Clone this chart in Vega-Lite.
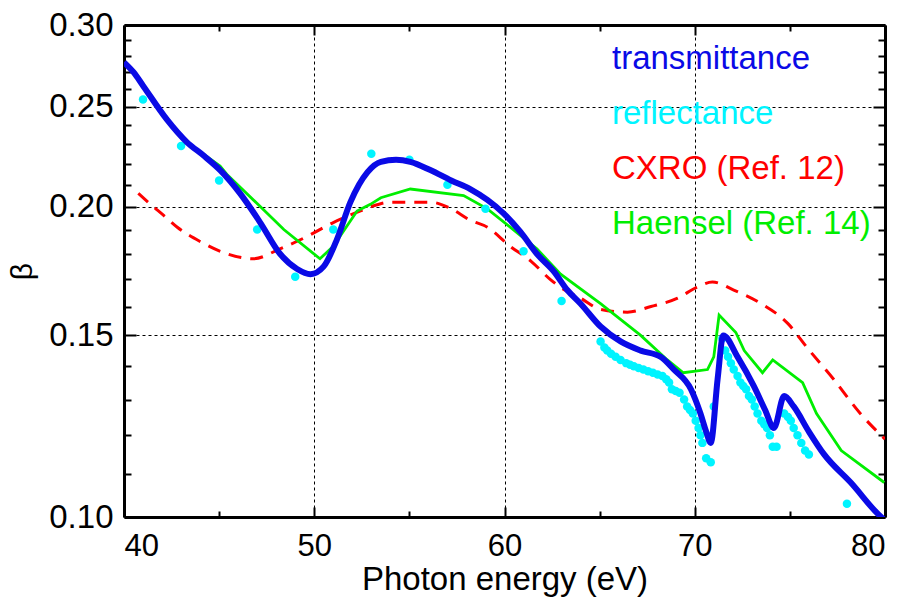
{
  "$schema": "https://vega.github.io/schema/vega-lite/v6.json",
  "width": 761,
  "height": 492,
  "autosize": {"type": "none"},
  "padding": {"left": 124, "top": 25, "right": 22, "bottom": 86},
  "config": {"font": "Liberation Sans", "view": {"stroke": null}},
  "datasets": {
    "trans": [
      {"energy": 40.0, "beta": 0.276}, {"energy": 40.5, "beta": 0.270}, {"energy": 41.0, "beta": 0.262},
      {"energy": 42.25, "beta": 0.243}, {"energy": 43.3, "beta": 0.231}, {"energy": 44.2, "beta": 0.224},
      {"energy": 45.05, "beta": 0.217}, {"energy": 46.1, "beta": 0.206}, {"energy": 47.16, "beta": 0.193},
      {"energy": 48.2, "beta": 0.180}, {"energy": 49.1, "beta": 0.174}, {"energy": 49.8, "beta": 0.172},
      {"energy": 50.5, "beta": 0.175}, {"energy": 51.2, "beta": 0.186}, {"energy": 51.9, "beta": 0.202},
      {"energy": 52.8, "beta": 0.216}, {"energy": 53.5, "beta": 0.221}, {"energy": 54.3, "beta": 0.222},
      {"energy": 55.05, "beta": 0.221}, {"energy": 56.1, "beta": 0.217}, {"energy": 57.2, "beta": 0.212},
      {"energy": 58.2, "beta": 0.208}, {"energy": 59.1, "beta": 0.203}, {"energy": 59.95, "beta": 0.197},
      {"energy": 60.84, "beta": 0.189}, {"energy": 61.7, "beta": 0.180}, {"energy": 62.6, "beta": 0.173},
      {"energy": 63.3, "beta": 0.166}, {"energy": 64.0, "beta": 0.161}, {"energy": 65.05, "beta": 0.153},
      {"energy": 66.1, "beta": 0.148}, {"energy": 67.16, "beta": 0.145}, {"energy": 68.2, "beta": 0.143},
      {"energy": 68.9, "beta": 0.139}, {"energy": 69.8, "beta": 0.133}, {"energy": 70.3, "beta": 0.126},
      {"energy": 70.6, "beta": 0.121}, {"energy": 70.84, "beta": 0.118}, {"energy": 71.2, "beta": 0.136},
      {"energy": 71.5, "beta": 0.150}, {"energy": 72.25, "beta": 0.143}, {"energy": 73.1, "beta": 0.134},
      {"energy": 73.7, "beta": 0.127}, {"energy": 74.16, "beta": 0.122}, {"energy": 74.7, "beta": 0.131},
      {"energy": 75.2, "beta": 0.128}, {"energy": 76.0, "beta": 0.121}, {"energy": 76.8, "beta": 0.115},
      {"energy": 78.2, "beta": 0.108}, {"energy": 79.8, "beta": 0.100}, {"energy": 80.0, "beta": 0.0993}
    ],
    "refl": [
      {"energy": 41, "beta": 0.254}, {"energy": 43, "beta": 0.229}, {"energy": 45, "beta": 0.212},
      {"energy": 47, "beta": 0.190}, {"energy": 49, "beta": 0.171}, {"energy": 51, "beta": 0.190},
      {"energy": 53, "beta": 0.225}, {"energy": 55, "beta": 0.222}, {"energy": 57, "beta": 0.210},
      {"energy": 59, "beta": 0.199}, {"energy": 61, "beta": 0.181}, {"energy": 63, "beta": 0.162},
      {"energy": 65.05, "beta": 0.148}, {"energy": 65.25, "beta": 0.146}, {"energy": 65.4, "beta": 0.145},
      {"energy": 65.6, "beta": 0.144}, {"energy": 65.84, "beta": 0.143}, {"energy": 66.1, "beta": 0.142},
      {"energy": 66.4, "beta": 0.141}, {"energy": 66.6, "beta": 0.1405}, {"energy": 66.8, "beta": 0.140},
      {"energy": 67.05, "beta": 0.1395}, {"energy": 67.3, "beta": 0.139}, {"energy": 67.55, "beta": 0.1385},
      {"energy": 67.8, "beta": 0.138}, {"energy": 68.05, "beta": 0.1375}, {"energy": 68.3, "beta": 0.137},
      {"energy": 68.5, "beta": 0.136}, {"energy": 68.65, "beta": 0.135}, {"energy": 68.8, "beta": 0.133},
      {"energy": 69.0, "beta": 0.1325}, {"energy": 69.2, "beta": 0.132}, {"energy": 69.44, "beta": 0.130},
      {"energy": 69.6, "beta": 0.128}, {"energy": 69.75, "beta": 0.127}, {"energy": 69.9, "beta": 0.126},
      {"energy": 70.05, "beta": 0.124}, {"energy": 70.2, "beta": 0.122}, {"energy": 70.3, "beta": 0.120},
      {"energy": 70.4, "beta": 0.118}, {"energy": 70.6, "beta": 0.114}, {"energy": 70.84, "beta": 0.113},
      {"energy": 71.0, "beta": 0.128}, {"energy": 71.45, "beta": 0.149}, {"energy": 71.6, "beta": 0.145},
      {"energy": 71.75, "beta": 0.143}, {"energy": 71.9, "beta": 0.141}, {"energy": 72.05, "beta": 0.139},
      {"energy": 72.25, "beta": 0.137}, {"energy": 72.4, "beta": 0.135}, {"energy": 72.55, "beta": 0.134},
      {"energy": 72.7, "beta": 0.133}, {"energy": 72.85, "beta": 0.131}, {"energy": 73.0, "beta": 0.130},
      {"energy": 73.15, "beta": 0.128}, {"energy": 73.3, "beta": 0.126}, {"energy": 73.5, "beta": 0.124},
      {"energy": 73.65, "beta": 0.123}, {"energy": 73.8, "beta": 0.122}, {"energy": 73.95, "beta": 0.120},
      {"energy": 74.1, "beta": 0.117}, {"energy": 74.3, "beta": 0.117}, {"energy": 74.7, "beta": 0.126},
      {"energy": 74.9, "beta": 0.125}, {"energy": 75.05, "beta": 0.124}, {"energy": 75.2, "beta": 0.122},
      {"energy": 75.4, "beta": 0.120}, {"energy": 75.6, "beta": 0.118}, {"energy": 75.8, "beta": 0.116},
      {"energy": 76.0, "beta": 0.115}, {"energy": 78.0, "beta": 0.103}
    ],
    "cxro": [
      {"energy": 40.75, "beta": 0.206}, {"energy": 41.4, "beta": 0.201}, {"energy": 42.1, "beta": 0.196},
      {"energy": 42.8, "beta": 0.191}, {"energy": 44.0, "beta": 0.185}, {"energy": 45.4, "beta": 0.180},
      {"energy": 46.8, "beta": 0.178}, {"energy": 48.2, "beta": 0.182}, {"energy": 49.6, "beta": 0.187},
      {"energy": 51.0, "beta": 0.193}, {"energy": 52.4, "beta": 0.198}, {"energy": 53.0, "beta": 0.200},
      {"energy": 54.0, "beta": 0.202}, {"energy": 55.05, "beta": 0.202}, {"energy": 56.1, "beta": 0.202},
      {"energy": 57.2, "beta": 0.199}, {"energy": 58.2, "beta": 0.194}, {"energy": 59.1, "beta": 0.191},
      {"energy": 60.3, "beta": 0.183}, {"energy": 61.4, "beta": 0.177}, {"energy": 62.4, "beta": 0.170},
      {"energy": 62.95, "beta": 0.167}, {"energy": 64.0, "beta": 0.163}, {"energy": 65.05, "beta": 0.159},
      {"energy": 66.46, "beta": 0.158}, {"energy": 67.7, "beta": 0.160}, {"energy": 69.1, "beta": 0.163},
      {"energy": 70.1, "beta": 0.167}, {"energy": 70.93, "beta": 0.169}, {"energy": 72.05, "beta": 0.166},
      {"energy": 73.5, "beta": 0.161}, {"energy": 74.9, "beta": 0.154}, {"energy": 75.9, "beta": 0.146},
      {"energy": 77.3, "beta": 0.136}, {"energy": 78.7, "beta": 0.126}, {"energy": 80.0, "beta": 0.119}
    ],
    "haensel": [
      {"energy": 42.16, "beta": 0.243}, {"energy": 43.3, "beta": 0.231}, {"energy": 45.05, "beta": 0.219},
      {"energy": 45.4, "beta": 0.215}, {"energy": 47.16, "beta": 0.200}, {"energy": 48.4, "beta": 0.190},
      {"energy": 50.3, "beta": 0.178}, {"energy": 51.0, "beta": 0.183}, {"energy": 52.25, "beta": 0.198},
      {"energy": 52.95, "beta": 0.201}, {"energy": 53.5, "beta": 0.204}, {"energy": 55.05, "beta": 0.208},
      {"energy": 57.85, "beta": 0.205}, {"energy": 59.1, "beta": 0.199}, {"energy": 60.3, "beta": 0.191},
      {"energy": 61.7, "beta": 0.182}, {"energy": 62.95, "beta": 0.172}, {"energy": 65.05, "beta": 0.161},
      {"energy": 67.16, "beta": 0.150}, {"energy": 68.56, "beta": 0.142}, {"energy": 69.4, "beta": 0.138},
      {"energy": 70.67, "beta": 0.139}, {"energy": 71.0, "beta": 0.143}, {"energy": 71.28, "beta": 0.157},
      {"energy": 72.16, "beta": 0.151}, {"energy": 72.6, "beta": 0.145}, {"energy": 73.56, "beta": 0.138},
      {"energy": 74.1, "beta": 0.142}, {"energy": 75.67, "beta": 0.135}, {"energy": 76.4, "beta": 0.126},
      {"energy": 77.7, "beta": 0.116}, {"energy": 79.96, "beta": 0.108}
    ]
  },
  "layer": [
    {
      "data": {"name": "cxro"},
      "transform": [{"calculate": "'CXRO (Ref. 12)'", "as": "series"}],
      "mark": {"type": "line", "strokeWidth": 3, "strokeDash": [13, 9], "interpolate": "monotone", "clip": true},
      "encoding": {
        "x": {"field": "energy", "type": "quantitative", "scale": {"domain": [40, 80], "nice": false, "zero": false},
          "axis": {"orient": "top", "values": [40,45,50,55,60,65,70,75,80], "labels": false, "title": null, "grid": false,
            "tickSize": {"condition": {"test": "datum.value % 10 === 0", "value": -10}, "value": -6},
            "tickWidth": 2, "tickColor": "black", "domainColor": "black", "domainWidth": 3}},
        "y": {"field": "beta", "type": "quantitative", "scale": {"type": "log", "domain": [0.1, 0.3], "nice": false},
          "axis": {"orient": "right", "values": [0.1,0.11,0.12,0.13,0.14,0.15,0.16,0.17,0.18,0.19,0.2,0.21,0.22,0.23,0.24,0.25,0.26,0.27,0.28,0.29,0.3],
            "labels": false, "title": null, "grid": false,
            "tickSize": {"condition": {"test": "abs(datum.value*20 - round(datum.value*20)) < 0.001", "value": -12}, "value": -7},
            "tickWidth": 2, "tickColor": "black", "domainColor": "black", "domainWidth": 3}},
        "color": {"field": "series", "type": "nominal",
          "scale": {"domain": ["transmittance", "reflectance", "CXRO (Ref. 12)", "Haensel (Ref. 14)"],
                    "range": ["#0a0ae6", "#00f4ff", "#ff0000", "#00ee00"]},
          "legend": {"orient": "none", "legendX": 455, "legendY": 17, "title": null,
            "symbolSize": 0, "symbolOpacity": 0, "symbolStrokeWidth": 0, "labelOffset": 0,
            "labelFontSize": 33, "labelFont": "Liberation Sans", "rowPadding": 21, "padding": 0, "labelLimit": 400,
            "encode": {"labels": {"update": {"fill": {"scale": "color", "field": "value"}}}}}}
      }
    },
    {
      "data": {"name": "haensel"},
      "transform": [{"calculate": "'Haensel (Ref. 14)'", "as": "series"}],
      "mark": {"type": "line", "strokeWidth": 2.8, "clip": true},
      "encoding": {
        "x": {"field": "energy", "type": "quantitative", "axis": null},
        "y": {"field": "beta", "type": "quantitative", "axis": null},
        "color": {"field": "series", "type": "nominal"}
      }
    },
    {
      "data": {"name": "refl"},
      "transform": [{"calculate": "'reflectance'", "as": "series"}],
      "mark": {"type": "point", "filled": true, "size": 72, "opacity": 1, "clip": true},
      "encoding": {
        "x": {"field": "energy", "type": "quantitative", "axis": null},
        "y": {"field": "beta", "type": "quantitative", "axis": null},
        "color": {"field": "series", "type": "nominal"}
      }
    },
    {
      "data": {"name": "trans"},
      "transform": [{"calculate": "'transmittance'", "as": "series"}],
      "mark": {"type": "line", "strokeWidth": 6, "interpolate": "monotone", "clip": true},
      "encoding": {
        "x": {"field": "energy", "type": "quantitative",
          "axis": {"orient": "bottom", "values": [40,45,50,55,60,65,70,75,80],
            "tickSize": {"condition": {"test": "datum.value % 10 === 0", "value": -10}, "value": -6},
            "tickWidth": 2, "tickColor": "black", "domainColor": "black", "domainWidth": 3,
            "labelExpr": "datum.value % 10 === 0 ? datum.label : ''", "labelFontSize": 31, "labelColor": "black",
            "labelPadding": 24, "grid": true, "gridColor": "black", "gridDash": [3, 3], "gridWidth": 1,
            "gridOpacity": {"condition": {"test": "datum.value % 10 === 0 && datum.value > 40 && datum.value < 80", "value": 1}, "value": 0},
            "title": "Photon energy (eV)", "titleFontSize": 33, "titleFontWeight": "normal", "titleColor": "black", "titlePadding": 2}},
        "y": {"field": "beta", "type": "quantitative",
          "axis": {"orient": "left", "values": [0.1,0.11,0.12,0.13,0.14,0.15,0.16,0.17,0.18,0.19,0.2,0.21,0.22,0.23,0.24,0.25,0.26,0.27,0.28,0.29,0.3],
            "tickSize": {"condition": {"test": "abs(datum.value*20 - round(datum.value*20)) < 0.001", "value": -12}, "value": -7},
            "tickWidth": 2, "tickColor": "black", "domainColor": "black", "domainWidth": 3,
            "labelExpr": "abs(datum.value*20 - round(datum.value*20)) < 0.001 ? format(datum.value, '.2f') : ''",
            "labelFontSize": 33, "labelColor": "black", "labelPadding": 23,
            "grid": true, "gridColor": "black", "gridDash": [3, 3], "gridWidth": 1,
            "gridOpacity": {"condition": {"test": "abs(datum.value*20 - round(datum.value*20)) < 0.001 && datum.value > 0.101 && datum.value < 0.299", "value": 1}, "value": 0},
            "title": "β", "titleFontSize": 30, "titleFontWeight": "normal", "titleColor": "black", "titlePadding": 11}},
        "color": {"field": "series", "type": "nominal"}
      }
    }
  ],
  "resolve": {"axis": {"x": "independent", "y": "independent"}}
}
